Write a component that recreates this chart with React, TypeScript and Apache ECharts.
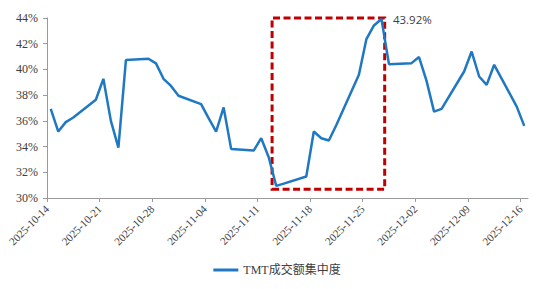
import React, { useEffect, useRef } from "react";
import * as echarts from "echarts";

const BASE_DATE = "2025-10-14";
const dates = [
  "2025-10-14", "2025-10-15", "2025-10-16", "2025-10-17", "2025-10-20", "2025-10-21", "2025-10-22", "2025-10-23", "2025-10-24",
  "2025-10-27", "2025-10-28", "2025-10-29", "2025-10-30", "2025-10-31",
  "2025-11-03", "2025-11-04", "2025-11-05", "2025-11-06", "2025-11-07",
  "2025-11-10", "2025-11-11", "2025-11-12", "2025-11-13", "2025-11-14",
  "2025-11-17", "2025-11-18", "2025-11-19", "2025-11-20", "2025-11-21",
  "2025-11-24", "2025-11-25", "2025-11-26", "2025-11-27", "2025-11-28",
  "2025-12-01", "2025-12-02", "2025-12-03", "2025-12-04", "2025-12-05",
  "2025-12-08", "2025-12-09", "2025-12-10", "2025-12-11", "2025-12-12",
  "2025-12-15", "2025-12-16",
];
const values = [
  36.94, 35.17, 35.9, 36.26, 37.64, 39.27, 36.0, 33.92, 40.73,
  40.83, 40.47, 39.27, 38.72, 37.95,
  37.3, 36.21, 35.17, 37.04, 33.82,
  33.69, 34.65, 33.17, 30.94, 31.12,
  31.67, 35.17, 34.65, 34.47, 35.68,
  39.58, 42.36, 43.42, 43.92, 40.41,
  40.49, 40.96, 39.11, 36.72, 36.93,
  39.84, 41.39, 39.45, 38.8, 40.36,
  37.11, 35.61,
];
const tickDates = [
  "2025-10-14", "2025-10-21", "2025-10-28", "2025-11-04", "2025-11-11",
  "2025-11-18", "2025-11-25", "2025-12-02", "2025-12-09", "2025-12-16",
];
const axisEndDate = "2025-12-17";
const yTicks = { min: 30, max: 44, step: 2 };
const seriesName = "TMT成交额集中度";
const highlightFrom = "2025-11-13";
const highlightTo = "2025-11-27";

const DAY = 86400000;
const dayOf = (d: string) => (Date.parse(d + "T00:00:00Z") - Date.parse(BASE_DATE + "T00:00:00Z")) / DAY;
const fmtDate = (n: number) => new Date(Date.parse(BASE_DATE + "T00:00:00Z") + Math.round(n) * DAY).toISOString().slice(0, 10);

export default function App() {
  const ref = useRef<HTMLDivElement>(null);
  useEffect(() => {
    if (!ref.current) return;
    const chart = echarts.init(ref.current, null, { renderer: "svg" });
    const data = dates.map((d, i) => [dayOf(d) + 0.5, values[i]]);
    const ticks = tickDates.map(dayOf);
    const serif = "'Liberation Serif', 'Noto Sans CJK SC', serif";
    chart.setOption({
      animation: false,
      backgroundColor: "#ffffff",
      grid: { left: 47, right: 26, top: 18, bottom: 91 },
      legend: {
        bottom: 8,
        left: "center",
        icon: "rect",
        itemWidth: 25,
        itemHeight: 3,
        itemGap: 10,
        textStyle: { fontFamily: serif, fontSize: 12, color: "#404040" },
        data: [seriesName],
      },
      xAxis: {
        type: "value",
        min: 0,
        max: dayOf(axisEndDate),
        splitLine: { show: false },
        axisLine: { show: true, lineStyle: { color: "#9a9a9a", width: 1 } },
        axisTick: { show: true, length: 4, customValues: ticks, lineStyle: { color: "#9a9a9a" } },
        axisLabel: {
          customValues: ticks,
          rotate: 45,
          margin: 9,
          fontFamily: serif,
          fontSize: 11,
          color: "#404040",
          formatter: (v: number) => fmtDate(v),
        },
      },
      yAxis: {
        type: "value",
        min: yTicks.min,
        max: yTicks.max,
        interval: yTicks.step,
        splitLine: { show: false },
        axisLine: { show: true, lineStyle: { color: "#9a9a9a", width: 1 } },
        axisTick: { show: true, length: 4, lineStyle: { color: "#9a9a9a" } },
        axisLabel: {
          margin: 9,
          fontFamily: serif,
          fontSize: 12,
          color: "#404040",
          formatter: "{value}%",
        },
      },
      series: [
        {
          name: seriesName,
          type: "line",
          data,
          symbol: "none",
          clip: false,
          lineStyle: { color: "#1f78c1", width: 2.5 },
          itemStyle: { color: "#1f78c1" },
          markPoint: {
            silent: true,
            symbol: "circle",
            symbolSize: 1,
            itemStyle: { color: "rgba(0,0,0,0)" },
            label: {
              show: true,
              position: "right",
              distance: 11,
              formatter: (p: any) => Number(p.value).toFixed(2) + "%",
              fontFamily: "'Open Sans', sans-serif",
              fontSize: 11.5,
              color: "#404040",
            },
            data: [{ type: "max", valueDim: "y" }],
          },
          markArea: {
            silent: true,
            itemStyle: {
              color: "rgba(0,0,0,0)",
              borderColor: "#c00000",
              borderWidth: 3,
              borderType: [7, 3.5],
            },
            data: [[
              { xAxis: dayOf(highlightFrom) - 0.05, yAxis: 30.68 },
              { xAxis: dayOf(highlightTo) + 0.93, yAxis: 44.17 },
            ]],
          },
        },
      ],
    });
    return () => chart.dispose();
  }, []);
  return (
    <div
      ref={ref}
      style={{ position: "fixed", left: 0, top: 0, width: 554, height: 289, background: "#fff" }}
    />
  );
}
